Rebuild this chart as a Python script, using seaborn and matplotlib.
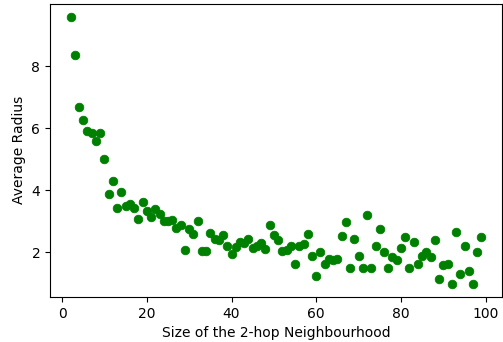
import matplotlib
matplotlib.use("Agg")
import matplotlib.pyplot as plt
import seaborn as sns
import pandas as pd

neighbourhood_size = list(range(2, 100))
average_radius = [
    9.59, 8.35, 6.67, 6.26, 5.91, 5.83, 5.59, 5.83, 5.01, 3.86,
    4.28, 3.42, 3.94, 3.49, 3.54, 3.42, 3.07, 3.63, 3.33, 3.12,
    3.38, 3.23, 3.00, 3.00, 3.03, 2.79, 2.86, 2.06, 2.74, 2.58,
    2.99, 2.02, 2.02, 2.62, 2.41, 2.39, 2.54, 2.21, 1.94, 2.17,
    2.31, 2.30, 2.42, 2.13, 2.21, 2.30, 2.11, 2.87, 2.54, 2.39,
    2.04, 2.06, 2.21, 1.60, 2.20, 2.27, 2.58, 1.86, 1.22, 1.99,
    1.63, 1.76, 1.73, 1.78, 2.53, 2.98, 1.47, 2.41, 1.88, 1.47,
    3.19, 1.47, 2.20, 2.75, 1.99, 1.47, 1.85, 1.74, 2.12, 2.49,
    1.47, 2.32, 1.63, 1.87, 2.01, 1.83, 2.39, 1.14, 1.58, 1.63,
    0.98, 2.66, 1.30, 2.18, 1.39, 0.98, 1.99, 2.49,
]
x_label = "Size of the 2-hop Neighbourhood"
y_label = "Average Radius"

df = pd.DataFrame({"size": neighbourhood_size, "radius": average_radius})

fig = plt.figure(figsize=(5.03, 3.42), dpi=100)
ax = fig.add_axes([50 / 503, 1 - 297 / 342, 452 / 503, (297 - 3.5) / 342])
sns.scatterplot(data=df, x="size", y="radius", color="green",
                edgecolor="green", linewidth=0.6, s=38, ax=ax)
ax.set_xlabel(x_label)
ax.set_ylabel(y_label)
ax.set_xticks([0, 20, 40, 60, 80, 100])
ax.set_yticks([2, 4, 6, 8])
fig.savefig("out.png", dpi=100)
